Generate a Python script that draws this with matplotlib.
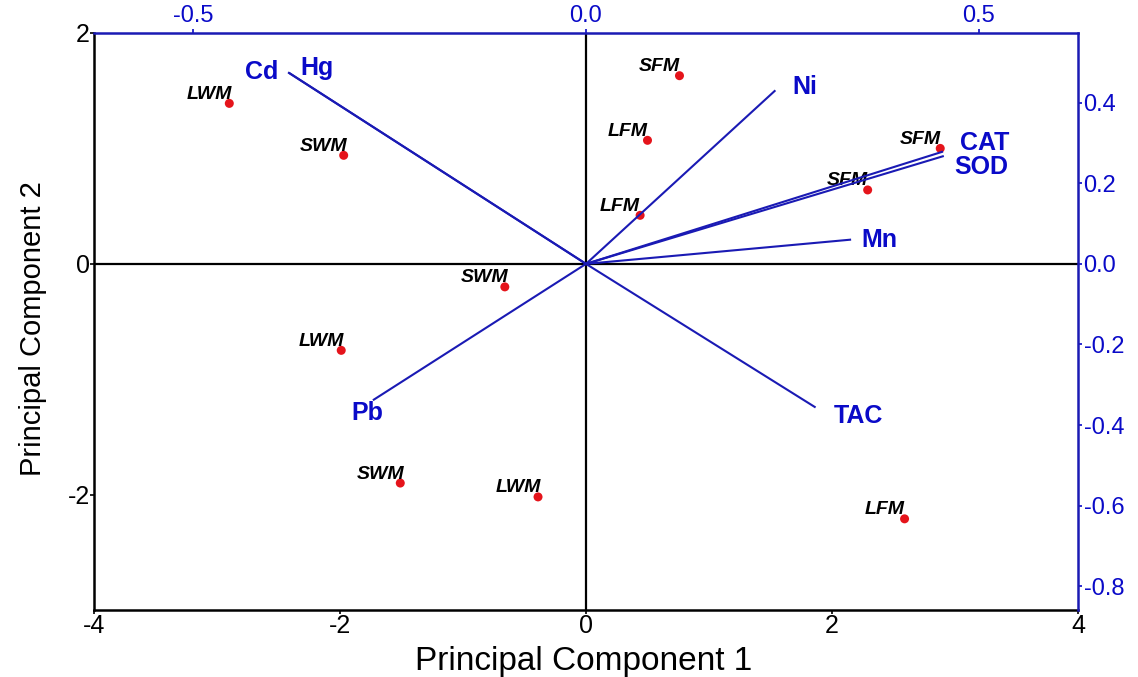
import matplotlib
matplotlib.use("Agg")
import matplotlib.pyplot as plt

plt.rcParams['axes.unicode_minus'] = False
plt.rcParams['font.family'] = ['Liberation Sans', 'DejaVu Sans']

# ---- data: sample scores (PC1, PC2) ----
score_labels = ["LWM", "SWM", "SFM", "LFM", "LFM", "SFM", "SFM",
                "SWM", "LWM", "SWM", "LWM", "LFM"]
score_pc1 = [-2.90, -1.97, 0.76, 0.50, 0.44, 2.88, 2.29,
             -0.66, -1.99, -1.51, -0.39, 2.59]
score_pc2 = [1.39, 0.94, 1.63, 1.07, 0.42, 1.00, 0.64,
             -0.20, -0.75, -1.90, -2.02, -2.21]

# ---- data: variable loadings (top / right axes) ----
load_labels = ["Cd", "Hg", "Ni", "CAT", "SOD", "Mn", "TAC", "Pb"]
load_pc1 = [-0.378, -0.377, 0.240, 0.453, 0.454, 0.336, 0.291, -0.270]
load_pc2 = [0.474, 0.473, 0.429, 0.278, 0.267, 0.060, -0.355, -0.337]

x_ticks = [-4, -2, 0, 2, 4]
y_ticks = [-2, 0, 2]
top_ticks = [-0.5, 0.0, 0.5]
right_ticks = [-0.8, -0.6, -0.4, -0.2, 0.0, 0.2, 0.4]

# label offsets in pixels (style only)
load_offsets = {"Cd": (-27, 1), "Hg": (27, 5), "Ni": (30, 4), "CAT": (43, 9),
                "SOD": (38, -11), "Mn": (29, 0), "TAC": (44, -9), "Pb": (-6, -13)}

BLUE_LINE = "#1a1ab4"
BLUE_TXT = "#0a0ac8"
RED = "#e5141b"

fig = plt.figure(figsize=(11.38, 6.77), dpi=100)
pos = [94 / 1138, 1 - 610 / 677, (1078 - 94) / 1138, (610 - 33) / 677]

ax = fig.add_axes(pos)
ax.set_xlim(-4, 4)
ax.set_ylim(-3, 2)
ax.set_xticks(x_ticks)
ax.set_yticks(y_ticks)
ax.set_xticklabels([str(v) for v in x_ticks], fontsize=18)
ax.set_yticklabels([str(v) for v in y_ticks], fontsize=18)
ax.tick_params(axis='both', direction='out', length=3, width=1.2, color='black', pad=0)
for s in ['left', 'bottom']:
    ax.spines[s].set_linewidth(1.8)
    ax.spines[s].set_color('black')
for s in ['top', 'right']:
    ax.spines[s].set_visible(False)
ax.set_xlabel("Principal Component 1", fontsize=24)
ax.set_ylabel("Principal Component 2", fontsize=21)
ax.xaxis.set_label_coords(0.498, -0.062)
ax.yaxis.set_label_coords(-0.048, 0.487)

ax.axhline(0, color='black', lw=1.6, zorder=1)
ax.axvline(0, color='black', lw=1.6, zorder=1)

ax.scatter(score_pc1, score_pc2, s=42, color=RED, zorder=5, edgecolors='none')
for lab, x, y in zip(score_labels, score_pc1, score_pc2):
    ax.annotate(lab, (x, y), xytext=(-20, 9), textcoords='offset pixels',
                ha='center', va='center', fontsize=14, fontweight='bold',
                fontstyle='italic', color='black', zorder=6)

# overlay axes for loadings
ax2 = fig.add_axes(pos, frameon=True)
ax2.patch.set_alpha(0)
ax2.set_xlim(-0.626, 0.626)
ax2.set_ylim(-0.859, 0.573)
ax2.xaxis.tick_top()
ax2.yaxis.tick_right()
ax2.set_xticks(top_ticks)
ax2.set_xticklabels([f"{v:.1f}" for v in top_ticks])
ax2.set_yticks(right_ticks)
ax2.set_yticklabels([f"{v:.1f}" for v in right_ticks])
ax2.tick_params(axis='both', colors=BLUE_TXT, labelsize=17, length=3, width=1.2, direction='out', pad=1)
for s in ['left', 'bottom']:
    ax2.spines[s].set_visible(False)
for s in ['top', 'right']:
    ax2.spines[s].set_color(BLUE_LINE)
    ax2.spines[s].set_linewidth(1.8)

for lab, x, y in zip(load_labels, load_pc1, load_pc2):
    ax2.plot([0, x], [0, y], color=BLUE_LINE, lw=1.5, zorder=3)
    ax2.annotate(lab, (x, y), xytext=load_offsets[lab], textcoords='offset pixels',
                 ha='center', va='center', fontsize=18, fontweight='bold',
                 color=BLUE_TXT, zorder=6)

fig.savefig("out.png", dpi=100)
